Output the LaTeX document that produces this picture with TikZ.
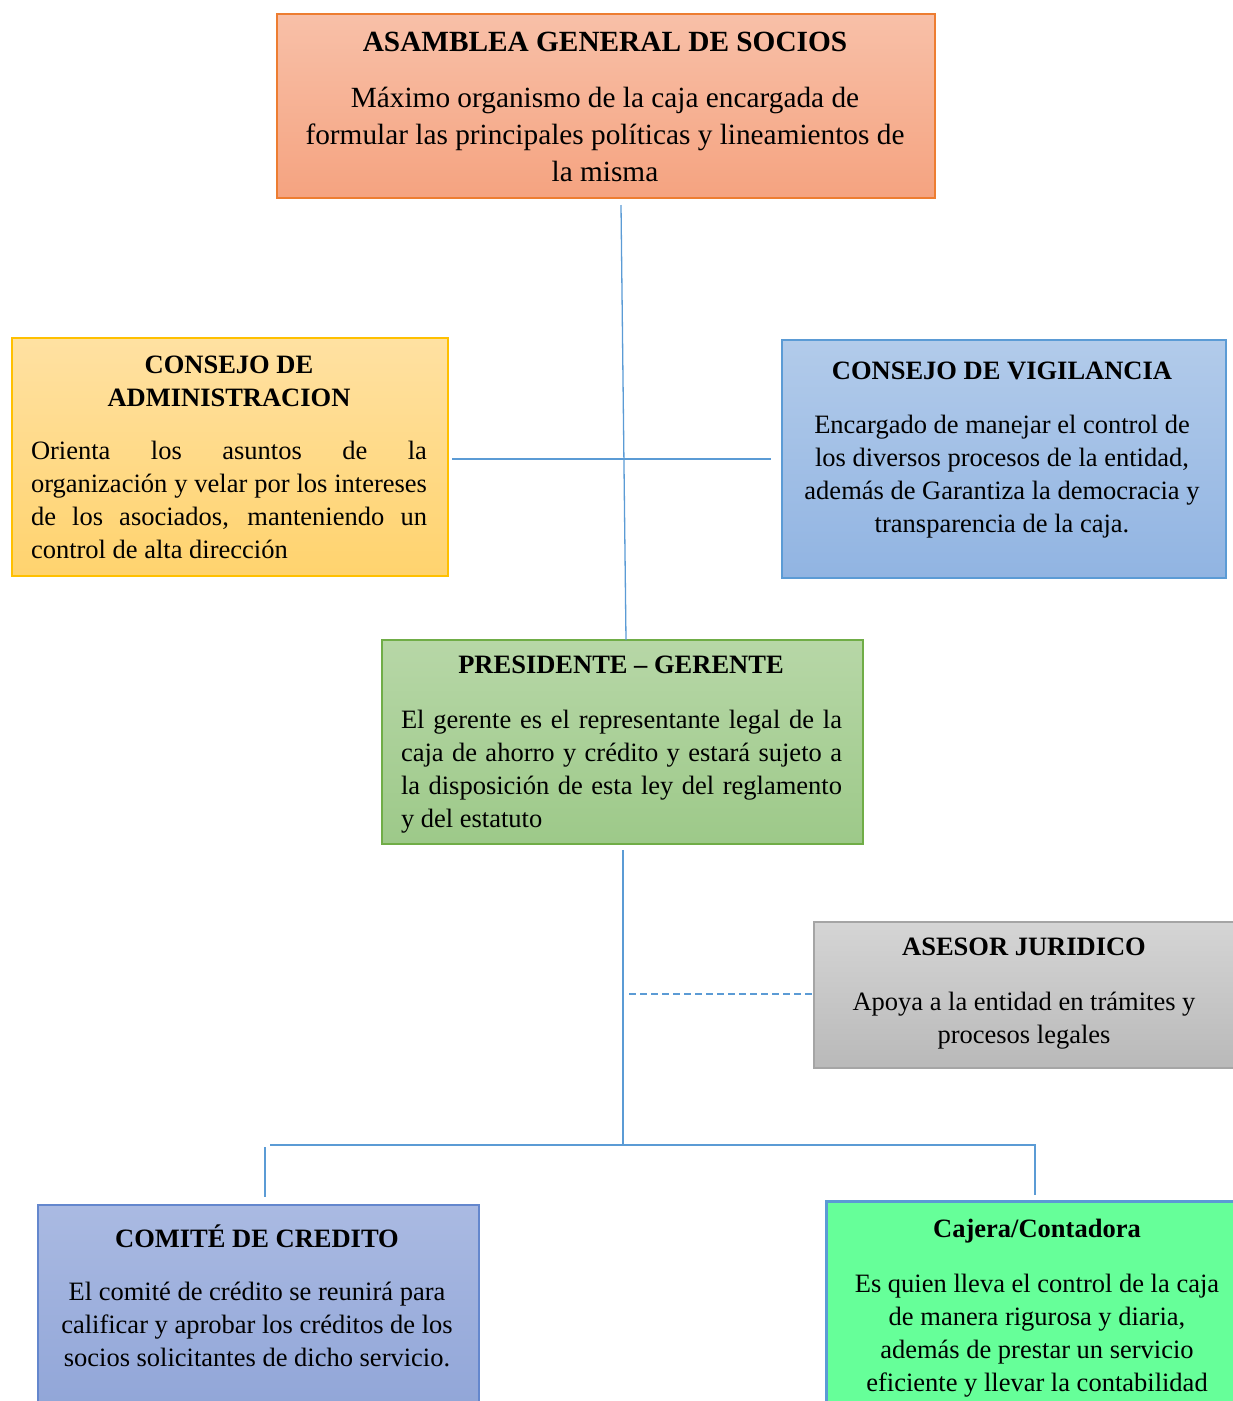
\documentclass[tikz,border=0pt]{standalone}
\usepackage{fontspec}
\setmainfont{Liberation Serif}
\definecolor{lineblue}{HTML}{5B9BD5}
\definecolor{asmT}{RGB}{248,192,168}
\definecolor{asmB}{RGB}{245,163,128}
\definecolor{asmD}{HTML}{ED7D31}
\definecolor{admT}{RGB}{255,225,162}
\definecolor{admB}{RGB}{255,211,110}
\definecolor{admD}{HTML}{FFC000}
\definecolor{vigT}{RGB}{178,203,234}
\definecolor{vigB}{RGB}{145,180,226}
\definecolor{vigD}{HTML}{5B9BD5}
\definecolor{preT}{RGB}{183,215,167}
\definecolor{preB}{RGB}{157,201,137}
\definecolor{preD}{HTML}{70AD47}
\definecolor{aseT}{RGB}{213,213,213}
\definecolor{aseB}{RGB}{185,185,185}
\definecolor{aseD}{RGB}{165,165,165}
\definecolor{comT}{RGB}{170,186,226}
\definecolor{comB}{RGB}{138,160,213}
\definecolor{comD}{RGB}{100,135,205}
\definecolor{cajF}{RGB}{102,255,153}
\definecolor{cajD}{HTML}{5B9BD5}
\newcommand{\bodyfont}{\fontsize{26.5}{33.1}\selectfont}
\newcommand{\bigfont}{\fontsize{29.3}{37}\selectfont}
\tikzset{
  conn/.style={draw=lineblue, line width=1.3pt},
  orgbox/.style={draw, line width=1.5pt, inner sep=0pt, anchor=north west},
  txt/.style={anchor=base, inner sep=0pt, outer sep=0pt},
}
\begin{document}
\begin{tikzpicture}[x=1pt,y=-1pt]
\useasboundingbox (0,0) rectangle (1233,1401);
\clip (0,0) rectangle (1233,1401);
% boxes
\node[orgbox, draw=asmD, top color=asmT, bottom color=asmB, minimum width=658pt, minimum height=184pt] (asm) at (276,13) {};
\node[orgbox, draw=admD, top color=admT, bottom color=admB, minimum width=436pt, minimum height=238pt] (adm) at (11,337) {};
\node[orgbox, draw=vigD, top color=vigT, bottom color=vigB, minimum width=444pt, minimum height=238pt] (vig) at (781,339) {};
\node[orgbox, draw=preD, top color=preT, bottom color=preB, minimum width=481pt, minimum height=204pt] (pre) at (381,639) {};
\node[orgbox, draw=aseD, top color=aseT, bottom color=aseB, minimum width=424pt, minimum height=146pt] (ase) at (813,921) {};
\node[orgbox, draw=comD, top color=comT, bottom color=comB, minimum width=441pt, minimum height=260pt] (com) at (37,1204) {};
\node[orgbox, draw=cajD, line width=3pt, fill=cajF, minimum width=430pt, minimum height=260pt] (caj) at (825,1200) {};
% texts
\node[txt] (asmTi) at (605,51) {\bigfont\bfseries ASAMBLEA GENERAL DE SOCIOS};
\node[txt] (asmTx) at (605,107) {\parbox[t]{650pt}{\centering\bigfont Máximo organismo de la caja encargada de\\formular las principales políticas y lineamientos de\\la misma}};
\node[txt] (admTi) at (229,373) {\parbox[t]{420pt}{\centering\bodyfont\bfseries CONSEJO DE\\ADMINISTRACION}};
\node[txt] (admTx) at (229,459) {\parbox[t]{396pt}{\bodyfont\tolerance=10000\hyphenpenalty=10000 Orienta los asuntos de la\linebreak organización y velar por los intereses\linebreak de los asociados, manteniendo un\linebreak control de alta dirección}};
\node[txt] (vigTi) at (1002,379) {\bodyfont\bfseries CONSEJO DE VIGILANCIA};
\node[txt] (vigTx) at (1002,433) {\parbox[t]{440pt}{\centering\bodyfont Encargado de manejar el control de\\los diversos procesos de la entidad,\\además de Garantiza la democracia y\\transparencia de la caja.}};
\node[txt] (preTi) at (621,673) {\bodyfont\bfseries PRESIDENTE -- GERENTE};
\node[txt] (preTx) at (621.5,728) {\parbox[t]{441pt}{\bodyfont\tolerance=10000\hyphenpenalty=10000 El gerente es el representante legal de la\linebreak caja de ahorro y crédito y estará sujeto a\linebreak la disposición de esta ley del reglamento\linebreak y del estatuto}};
\node[txt] (aseTi) at (1024,955) {\bodyfont\bfseries ASESOR JURIDICO};
\node[txt] (aseTx) at (1024,1010) {\parbox[t]{420pt}{\centering\bodyfont Apoya a la entidad en trámites y\\procesos legales}};
\node[txt] (comTi) at (257,1247) {\bodyfont\bfseries COMITÉ DE CREDITO};
\node[txt] (comTx) at (257,1300) {\parbox[t]{440pt}{\centering\bodyfont El comité de crédito se reunirá para\\calificar y aprobar los créditos de los\\socios solicitantes de dicho servicio.}};
\node[txt] (cajTi) at (1037,1237) {\bodyfont\bfseries Cajera/Contadora};
\node[txt] (cajTx) at (1037,1292) {\parbox[t]{420pt}{\centering\fontsize{26.5}{33}\selectfont Es quien lleva el control de la caja\\de manera rigurosa y diaria,\\además de prestar un servicio\\eficiente y llevar la contabilidad}};
% connector points
\coordinate (a1) at (621,205);
\coordinate (p1) at (626,640);
\coordinate (h1) at (452,459);
\coordinate (h2) at (771,459);
\coordinate (p2) at (623,850);
\coordinate (j1) at (623,1145);
\coordinate (d1) at (629,994);
\coordinate (jl) at (270,1145);
\coordinate (jr) at (1035,1145);
\coordinate (cl1) at (265,1147);
\coordinate (cl2) at (265,1197);
\coordinate (cr2) at (1035,1195);
% connectors
\draw[conn] (a1) -- (p1);
\draw[conn] (h1) -- (h2);
\draw[conn] (p2) -- (j1);
\draw[conn, dash pattern=on 7pt off 4pt] (d1) -- (ase.west |- d1);
\draw[conn] (jl) -- (jr) -- (cr2);
\draw[conn] (cl1) -- (cl2);
\end{tikzpicture}
\end{document}
